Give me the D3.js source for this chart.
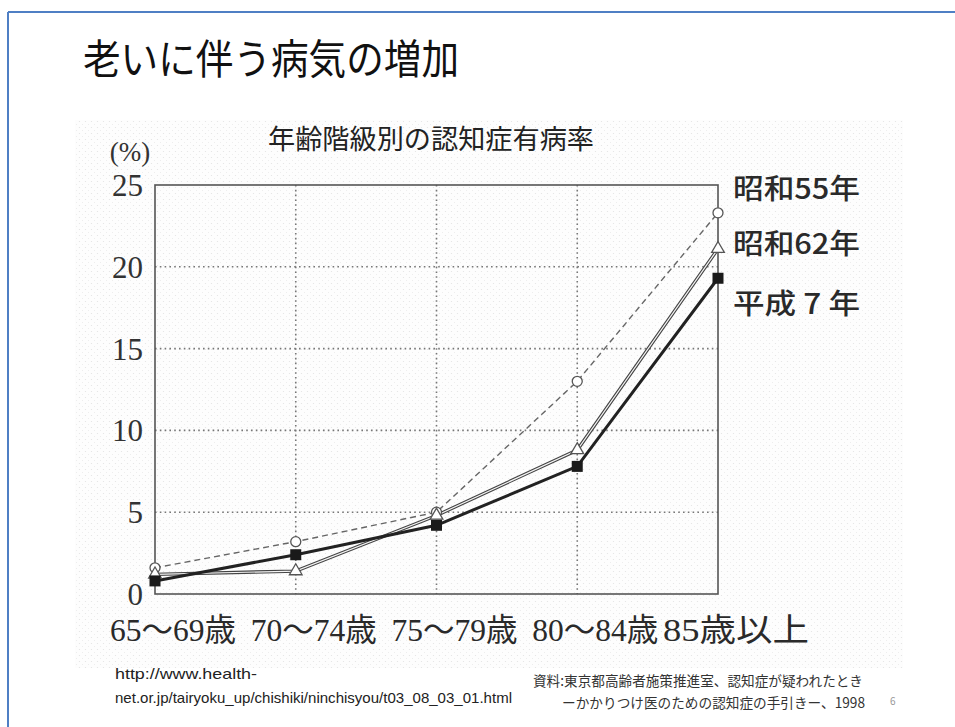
<!DOCTYPE html>
<html>
<head>
<meta charset="utf-8">
<script src="https://cdn.jsdelivr.net/npm/d3@7/dist/d3.min.js"></script>
<style>
  html, body { margin: 0; padding: 0; background: #fff; }
  svg { display: block; }
</style>
</head>
<body>
<svg id="chart" width="955" height="727"></svg>
<script>
// Age groups and prevalence of dementia (%) by survey year
const categories = ["65～69歳", "70～74歳", "75～79歳", "80～84歳", "85歳以上"];
const showa55 = [1.6, 3.2, 5.0, 13.0, 23.3];
const showa62 = [1.2, 1.4, 4.8, 8.8, 21.1];
const heisei7 = [0.8, 2.4, 4.2, 7.8, 19.3];
const seriesNames = ["昭和55年", "昭和62年", "平成 7 年"];
const yTicks = [0, 5, 10, 15, 20, 25];

const svg = d3.select("#chart");
const serif = "'Liberation Serif', 'Noto Sans CJK JP', serif";
const cjk = "'Noto Sans CJK JP', 'Noto Sans', sans-serif";

// Slide frame
svg.append("line").attr("x1", 8).attr("y1", 12).attr("x2", 955).attr("y2", 12)
  .attr("stroke", "#4f7fc4").attr("stroke-width", 2);
svg.append("line").attr("x1", 8).attr("y1", 12).attr("x2", 8).attr("y2", 727)
  .attr("stroke", "#4f7fc4").attr("stroke-width", 2);

// Slide title
svg.append("text").attr("x", 83).attr("y", 56)
  .attr("dominant-baseline", "central")
  .attr("font-family", cjk).attr("font-size", 41)
  .attr("textLength", 376).attr("lengthAdjust", "spacingAndGlyphs")
  .attr("fill", "#111").text("老いに伴う病気の増加");

// Halftone paper background of the figure
const defs = svg.append("defs");
const pat = defs.append("pattern").attr("id", "dots")
  .attr("width", 6).attr("height", 6).attr("patternUnits", "userSpaceOnUse");
pat.append("rect").attr("width", 6).attr("height", 6).attr("fill", "#fdfdfd");
pat.append("circle").attr("cx", 1.5).attr("cy", 1.5).attr("r", 0.6).attr("fill", "#e2e2e2");
pat.append("circle").attr("cx", 4.5).attr("cy", 4.5).attr("r", 0.5).attr("fill", "#e8e8e8");
svg.append("rect").attr("x", 75).attr("y", 120).attr("width", 828).attr("height", 548)
  .attr("fill", "url(#dots)");

// Scales
const x = d3.scalePoint().domain(categories).range([155, 718]).padding(0);
const y = d3.scaleLinear().domain([0, 25]).range([594, 185]);

// Figure subtitle
svg.append("text").attr("x", 268).attr("y", 137)
  .attr("dominant-baseline", "central")
  .attr("font-family", cjk).attr("font-size", 27)
  .attr("textLength", 326).attr("lengthAdjust", "spacingAndGlyphs")
  .attr("fill", "#222").text("年齢階級別の認知症有病率");

// Dotted grid
const grid = svg.append("g").attr("stroke", "#777").attr("stroke-width", 1.6)
  .attr("stroke-dasharray", "1.6,3.2");
grid.selectAll("line.h").data(yTicks.filter(d => d > 0 && d < 25)).join("line")
  .attr("x1", x(categories[0])).attr("x2", x(categories[categories.length - 1]))
  .attr("y1", d => y(d)).attr("y2", d => y(d));
grid.selectAll("line.v").data(categories.slice(1, -1)).join("line")
  .attr("x1", d => x(d)).attr("x2", d => x(d))
  .attr("y1", y(25)).attr("y2", y(0));

// Plot frame
svg.append("rect")
  .attr("x", x(categories[0])).attr("y", y(25))
  .attr("width", x(categories[categories.length - 1]) - x(categories[0]))
  .attr("height", y(0) - y(25))
  .attr("fill", "none").attr("stroke", "#555").attr("stroke-width", 1.6);

// Y axis labels
const yAxis = d3.axisLeft(y).tickValues(yTicks).tickSize(0).tickPadding(12);
const gy = svg.append("g").attr("transform", `translate(${x(categories[0])},0)`).call(yAxis);
gy.select(".domain").remove();
gy.selectAll("text").attr("font-family", serif).attr("font-size", 31)
  .attr("fill", "#333").attr("dy", "0.34em");
svg.append("text").attr("x", 130).attr("y", 152).attr("text-anchor", "middle")
  .attr("dominant-baseline", "central")
  .attr("font-family", serif).attr("font-size", 27).attr("fill", "#333").text("(%)");

// X category labels
svg.append("g").selectAll("text").data(categories).join("text")
  .attr("x", d => x(d) + 18).attr("y", 630)
  .attr("text-anchor", "middle").attr("dominant-baseline", "central")
  .attr("font-family", serif).attr("font-size", 32).attr("fill", "#2a2a2a")
  .attr("textLength", (d, i) => i === 4 ? 146 : 126).attr("lengthAdjust", "spacingAndGlyphs")
  .text(d => d);

// Series lines
const line = d3.line().x((d, i) => x(categories[i])).y(d => y(d));

svg.append("path").datum(showa55).attr("d", line)
  .attr("fill", "none").attr("stroke", "#666").attr("stroke-width", 1.4)
  .attr("stroke-dasharray", "6,4");

svg.append("path").datum(showa62).attr("d", line)
  .attr("fill", "none").attr("stroke", "#444").attr("stroke-width", 3.4);
svg.append("path").datum(showa62).attr("d", line)
  .attr("fill", "none").attr("stroke", "#f4f4f4").attr("stroke-width", 1.2);

svg.append("path").datum(heisei7).attr("d", line)
  .attr("fill", "none").attr("stroke", "#222").attr("stroke-width", 3);

// Markers
svg.append("g").selectAll("circle").data(showa55).join("circle")
  .attr("cx", (d, i) => x(categories[i])).attr("cy", d => y(d)).attr("r", 5)
  .attr("fill", "#fff").attr("stroke", "#555").attr("stroke-width", 1.3);

const tri = d3.symbol().type(d3.symbolTriangle).size(70);
svg.append("g").selectAll("path").data(showa62).join("path")
  .attr("d", tri)
  .attr("transform", (d, i) => `translate(${x(categories[i])},${y(d)})`)
  .attr("fill", "#fff").attr("stroke", "#555").attr("stroke-width", 1.3);

svg.append("g").selectAll("rect").data(heisei7).join("rect")
  .attr("x", (d, i) => x(categories[i]) - 5.5).attr("y", d => y(d) - 5.5)
  .attr("width", 11).attr("height", 11).attr("fill", "#1a1a1a");

// Series labels at the right end
const labelY = [187, 242, 302];
svg.append("g").selectAll("text").data(seriesNames).join("text")
  .attr("x", 733).attr("y", (d, i) => labelY[i])
  .attr("dominant-baseline", "central")
  .attr("font-family", cjk).attr("font-weight", 500).attr("font-size", 28)
  .attr("textLength", 127).attr("lengthAdjust", "spacingAndGlyphs")
  .attr("fill", "#2a2a2a").text(d => d);

// Source notes
const note = "'Liberation Sans Narrow', 'Liberation Sans', 'Noto Sans CJK JP', sans-serif";
svg.append("text").attr("x", 115).attr("y", 673).attr("dominant-baseline", "central")
  .attr("font-family", note).attr("font-size", 15).attr("fill", "#222")
  .attr("textLength", 142).attr("lengthAdjust", "spacingAndGlyphs")
  .text("http://www.health-");
svg.append("text").attr("x", 115).attr("y", 697).attr("dominant-baseline", "central")
  .attr("font-family", note).attr("font-size", 15).attr("fill", "#222")
  .attr("textLength", 397).attr("lengthAdjust", "spacingAndGlyphs")
  .text("net.or.jp/tairyoku_up/chishiki/ninchisyou/t03_08_03_01.html");

svg.append("text").attr("x", 533).attr("y", 680).attr("dominant-baseline", "central")
  .attr("font-family", cjk).attr("font-size", 14).attr("fill", "#333")
  .attr("textLength", 330).attr("lengthAdjust", "spacingAndGlyphs")
  .text("資料:東京都高齢者施策推進室、認知症が疑われたとき");
svg.append("text").attr("x", 562).attr("y", 702).attr("dominant-baseline", "central")
  .attr("font-family", cjk).attr("font-size", 14).attr("fill", "#333")
  .attr("textLength", 303).attr("lengthAdjust", "spacingAndGlyphs")
  .text("ーかかりつけ医のための認知症の手引きー、1998");

svg.append("text").attr("x", 890).attr("y", 700).attr("dominant-baseline", "central")
  .attr("font-family", cjk).attr("font-size", 10).attr("fill", "#999").text("6");
</script>
</body>
</html>
